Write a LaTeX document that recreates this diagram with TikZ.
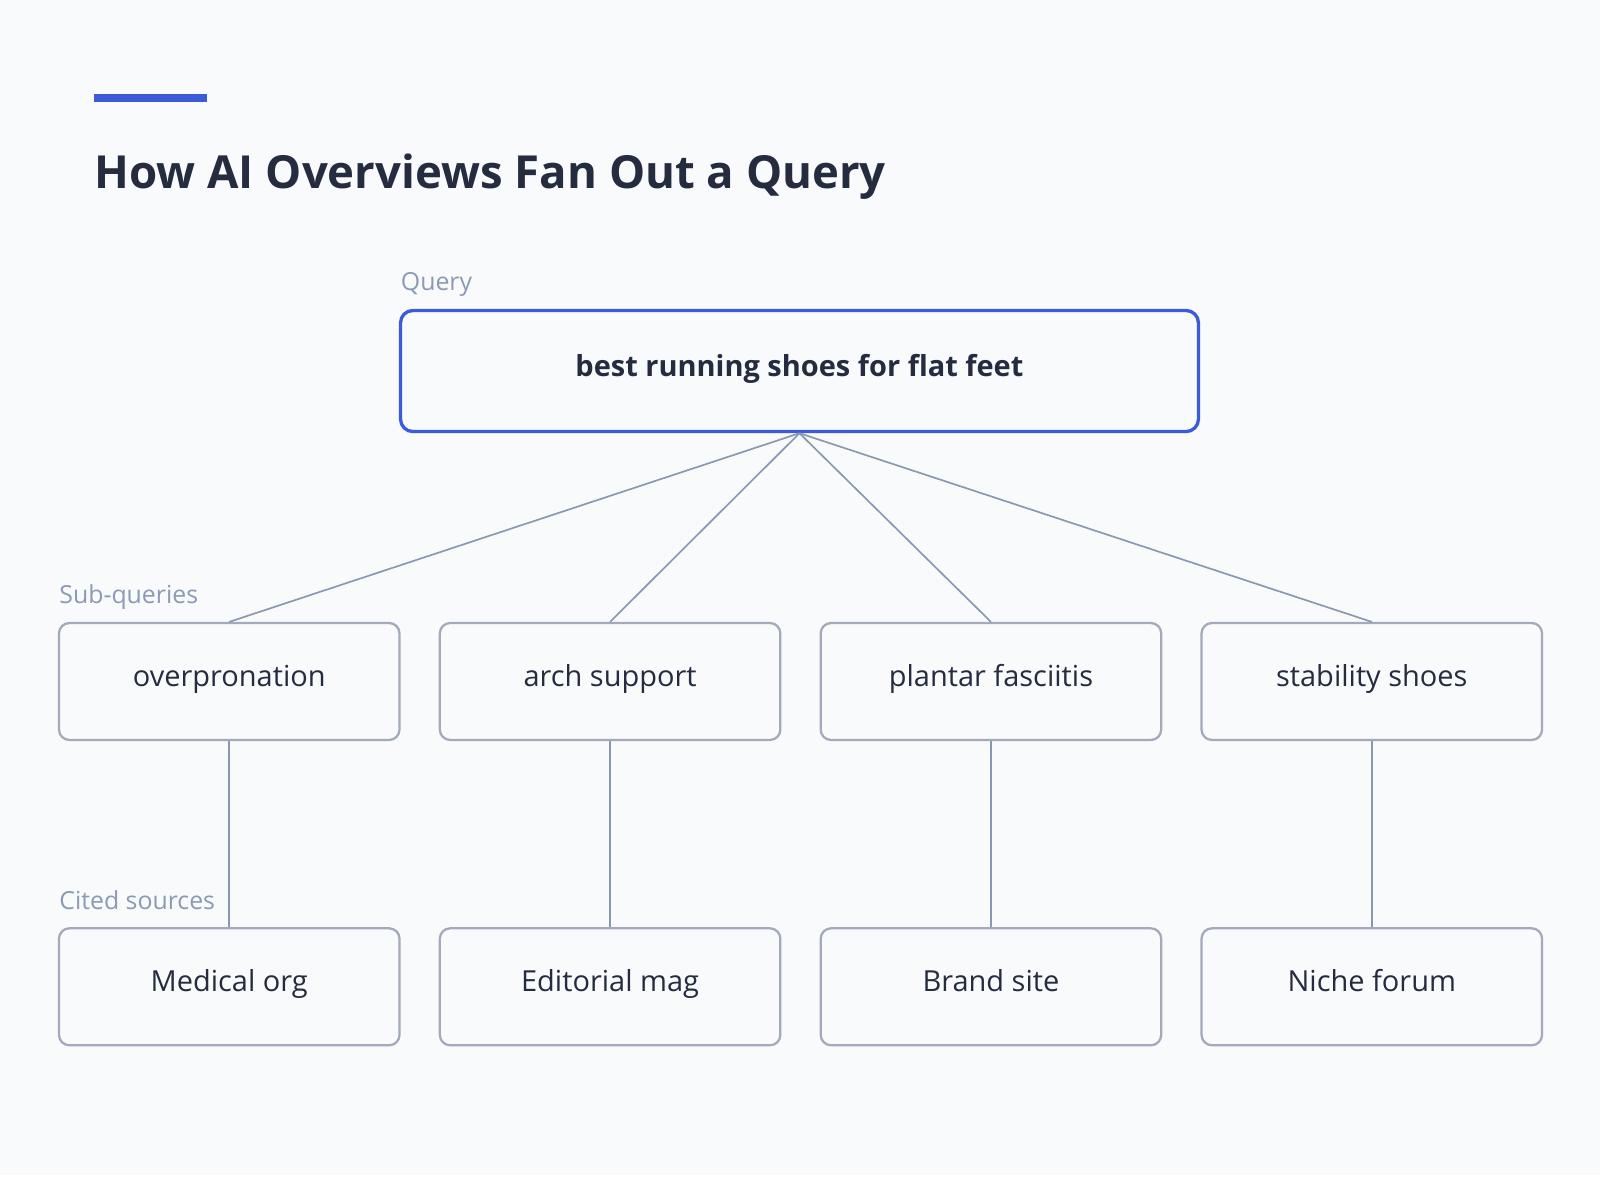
\documentclass[tikz,border=0pt]{standalone}
\usepackage{fontspec}
\setmainfont{Open Sans}
\definecolor{bg}{HTML}{F8FAFC}
\definecolor{ink}{HTML}{262C3F}
\definecolor{lab}{HTML}{8C9AB4}
\definecolor{ln}{HTML}{8A97B0}
\definecolor{bd}{HTML}{A3AABB}
\definecolor{blue}{HTML}{3B5BDB}
\begin{document}
\begin{tikzpicture}[x=0.5pt,y=-0.5pt,
 box/.style={draw=bd,line width=1.1pt,rounded corners=5pt,fill=bg,minimum width=164.5pt,minimum height=56.5pt,text=ink,font=\fontsize{14}{17}\selectfont,inner sep=0pt,text depth=0.25em,text height=0.75em},
 lbl/.style={text=lab,font=\fontsize{12}{15}\selectfont,anchor=base west,inner sep=0pt},
 con/.style={draw=ln,line width=0.8pt}]
\useasboundingbox (0,0) rectangle (1546,1143);
\fill[bg] (0,0) rectangle (1546,1135);
\fill[blue] (91,91) rectangle (200,99);
\node[anchor=base west,inner sep=0pt,text=ink,font=\fontsize{22}{26}\selectfont\bfseries] (title) at (91,182) {How AI Overviews Fan Out a Query};
\node[lbl] (ql) at (387,281) {Query};
\node[lbl] (sl) at (57,583) {Sub-queries};
\node[lbl] (cl) at (57,879) {Cited sources};
\node[draw=blue,line width=1.6pt,rounded corners=6pt,fill=bg,minimum width=385.5pt,minimum height=58.5pt,inner sep=0pt,text=ink,font=\fontsize{14}{17}\selectfont\bfseries,text depth=0.25em,text height=0.75em] (q) at (772.5,358.5) {best running shoes for flat feet};
\foreach \n/\x/\t/\s in {a/221.5/overpronation/Medical org, b/589.5/arch support/Editorial mag, c/957.5/plantar fasciitis/Brand site, d/1325.5/stability shoes/Niche forum}{
 \node[box] (s\n) at (\x,658.5) {\t};
 \node[box] (c\n) at (\x,953.5) {\s};
 \draw[con] (q.south) -- (s\n.north);
 \draw[con] (s\n.south) -- (c\n.north);
}
\end{tikzpicture}
\end{document}
